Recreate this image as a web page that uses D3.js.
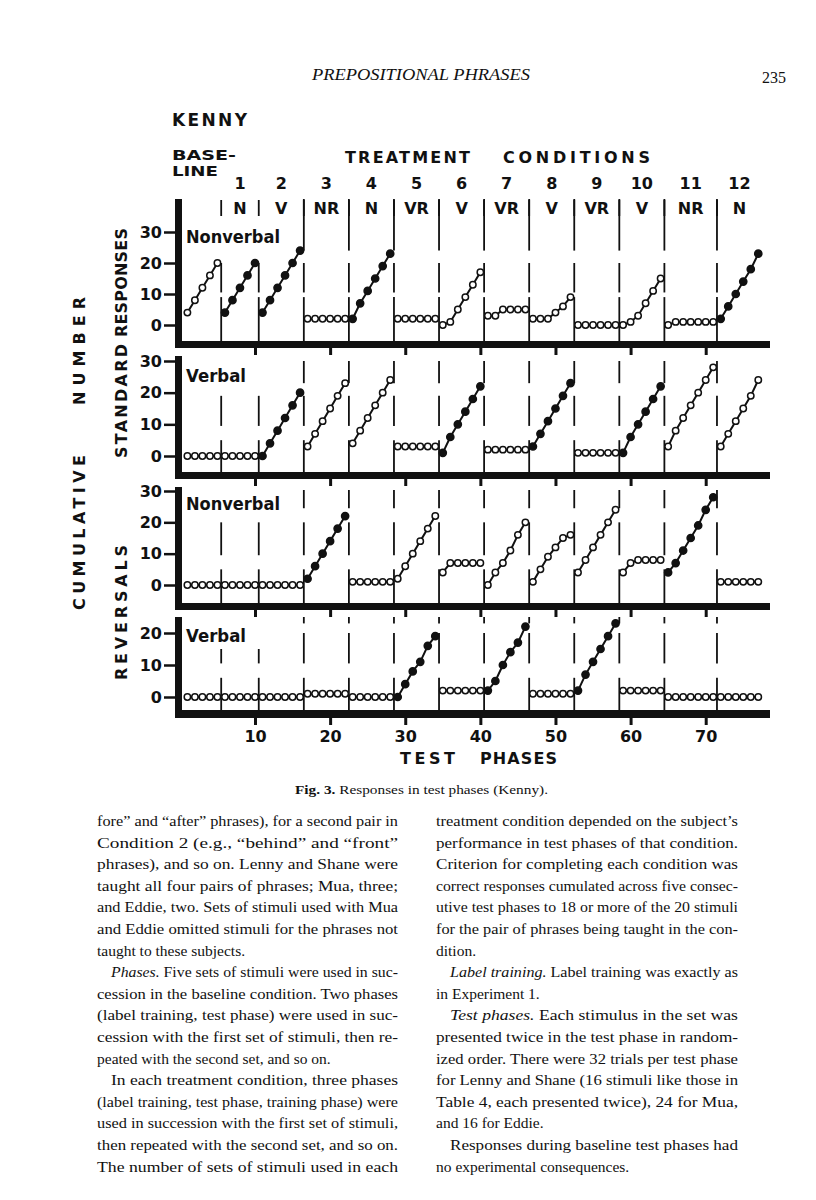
<!DOCTYPE html>
<html>
<head>
<meta charset="utf-8">
<script src="https://cdn.jsdelivr.net/npm/d3@7"></script>
<style>
  body { margin: 0; background: #fff; }
  svg { display: block; }
  .fig text { font-family: "DejaVu Sans", sans-serif; font-weight: bold; fill: #111; }
  .page text { font-family: "Liberation Serif", "Times New Roman", serif; fill: #111; }
</style>
</head>
<body>
<script>
//==DATA==//
// test phases in each block: baseline, then treatment conditions 1..12
const phaseCounts = [5, 5, 6, 6, 6, 6, 6, 6, 6, 6, 6, 7, 6];
const conditionNumbers = ["1", "2", "3", "4", "5", "6", "7", "8", "9", "10", "11", "12"];
const conditionLabels = ["N", "V", "NR", "N", "VR", "V", "VR", "V", "VR", "V", "NR", "N"];
const phaseTicks = [10, 20, 30, 40, 50, 60, 70];
const yTicks = [0, 10, 20, 30];
const yTicksShort = [0, 10, 20];

// cumulative responses per block (baseline first)
const nonverbalStandard = [
  [4, 8, 12, 16, 20], [4, 8, 12, 16, 20], [4, 8, 12, 16, 20, 24], [2, 2, 2, 2, 2, 2],
  [2, 7, 11, 15, 19, 23], [2, 2, 2, 2, 2, 2], [0, 1, 5, 9, 13, 17], [3, 3, 5, 5, 5, 5],
  [2, 2, 2, 4, 6, 9], [0, 0, 0, 0, 0, 0], [0, 1, 3, 7, 11, 15], [0, 1, 1, 1, 1, 1, 1],
  [2, 6, 10, 14, 18, 23]
];
const nonverbalStandardFilled = [0, 1, 1, 0, 1, 0, 0, 0, 0, 0, 0, 0, 1];

const verbalStandard = [
  [0, 0, 0, 0, 0], [0, 0, 0, 0, 0], [0, 4, 8, 12, 16, 20], [3, 7, 11, 15, 19, 23],
  [4, 8, 12, 16, 20, 24], [3, 3, 3, 3, 3, 3], [1, 6, 10, 14, 18, 22], [2, 2, 2, 2, 2, 2],
  [3, 7, 11, 15, 19, 23], [1, 1, 1, 1, 1, 1], [1, 6, 10, 14, 18, 22], [3, 8, 12, 16, 20, 24, 28],
  [3, 7, 11, 15, 19, 24]
];
const verbalStandardFilled = [0, 0, 1, 0, 0, 0, 1, 0, 1, 0, 1, 0, 0];

const nonverbalReversals = [
  [0, 0, 0, 0, 0], [0, 0, 0, 0, 0], [0, 0, 0, 0, 0, 0], [2, 6, 10, 14, 18, 22],
  [1, 1, 1, 1, 1, 1], [2, 6, 10, 14, 18, 22], [4, 7, 7, 7, 7, 7], [0, 4, 7, 11, 16, 20],
  [1, 5, 9, 12, 15, 16], [4, 8, 12, 16, 20, 24], [4, 7, 8, 8, 8, 8], [4, 7, 11, 15, 19, 24, 28],
  [1, 1, 1, 1, 1, 1]
];
const nonverbalReversalsFilled = [0, 0, 0, 1, 0, 0, 0, 0, 0, 0, 0, 1, 0];

const verbalReversals = [
  [0, 0, 0, 0, 0], [0, 0, 0, 0, 0], [0, 0, 0, 0, 0, 0], [1, 1, 1, 1, 1, 1],
  [0, 0, 0, 0, 0, 0], [0, 4, 8, 11, 16, 19], [2, 2, 2, 2, 2, 2], [2, 5, 10, 14, 17, 22],
  [1, 1, 1, 1, 1, 1], [2, 7, 11, 15, 19, 23], [2, 2, 2, 2, 2, 2], [0, 0, 0, 0, 0, 0, 0],
  [0, 0, 0, 0, 0, 0]
];
const verbalReversalsFilled = [0, 0, 0, 0, 0, 1, 0, 1, 0, 1, 0, 0, 0];

//==TEXT OF THE PAGE==//
// [line, indent, justified]; *...* is italic
const leftLines = [
  ["fore\u201d and \u201cafter\u201d phrases), for a second pair in", 0, 1],
  ["Condition 2 (e.g., \u201cbehind\u201d and \u201cfront\u201d", 0, 1],
  ["phrases), and so on. Lenny and Shane were", 0, 1],
  ["taught all four pairs of phrases; Mua, three;", 0, 1],
  ["and Eddie, two. Sets of stimuli used with Mua", 0, 1],
  ["and Eddie omitted stimuli for the phrases not", 0, 1],
  ["taught to these subjects.", 0, 0],
  ["*Phases.* Five sets of stimuli were used in suc-", 1, 1],
  ["cession in the baseline condition. Two phases", 0, 1],
  ["(label training, test phase) were used in suc-", 0, 1],
  ["cession with the first set of stimuli, then re-", 0, 1],
  ["peated with the second set, and so on.", 0, 0],
  ["In each treatment condition, three phases", 1, 1],
  ["(label training, test phase, training phase) were", 0, 1],
  ["used in succession with the first set of stimuli,", 0, 1],
  ["then repeated with the second set, and so on.", 0, 1],
  ["The number of sets of stimuli used in each", 0, 1]
];
const rightLines = [
  ["treatment condition depended on the subject\u2019s", 0, 1],
  ["performance in test phases of that condition.", 0, 1],
  ["Criterion for completing each condition was", 0, 1],
  ["correct responses cumulated across five consec-", 0, 1],
  ["utive test phases to 18 or more of the 20 stimuli", 0, 1],
  ["for the pair of phrases being taught in the con-", 0, 1],
  ["dition.", 0, 0],
  ["*Label training.* Label training was exactly as", 1, 1],
  ["in Experiment 1.", 0, 0],
  ["*Test phases.* Each stimulus in the set was", 1, 1],
  ["presented twice in the test phase in random-", 0, 1],
  ["ized order. There were 32 trials per test phase", 0, 1],
  ["for Lenny and Shane (16 stimuli like those in", 0, 1],
  ["Table 4, each presented twice), 24 for Mua,", 0, 1],
  ["and 16 for Eddie.", 0, 0],
  ["Responses during baseline test phases had", 1, 1],
  ["no experimental consequences.", 0, 0]
];

//==SVG AREA==//
const width = 816;
const height = 1200;
const svg = d3.select("body").append("svg").attr("width", width).attr("height", height);
const fig = svg.append("g").attr("class", "fig");
const page = svg.append("g").attr("class", "page");

const axisX = 175;      // left edge of the thick y bars
const axisRight = 770;  // right end of the bands

const x = d3.scaleLinear().domain([10, 70]).range([255, 705.7]);

// phase numbers of each block
let next = 1;
const blocks = phaseCounts.map(n => { const p = d3.range(next, next + n); next += n; return p; });
const dividers = blocks.slice(1).map(p => p[0] - 0.5);
const blockCenter = p => x(d3.mean(p));

//==PANELS==//
const panels = [
  {label: "Nonverbal", values: nonverbalStandard, filled: nonverbalStandardFilled, ticks: yTicks, max: 30,
   zero: 325, top: 232, axisTop: 199, band: 341, bandH: 7, labelY: 243, gaps: [[9, 10.5], [20, 24]], firstTop: 20, divTop: 199},
  {label: "Verbal", values: verbalStandard, filled: verbalStandardFilled, ticks: yTicks, max: 30,
   zero: 456, top: 361, axisTop: 356, band: 472, bandH: 7, labelY: 382, gaps: [[5, 9.5], [19, 23]], firstTop: 19, divTop: 361},
  {label: "Nonverbal", values: nonverbalReversals, filled: nonverbalReversalsFilled, ticks: yTicks, max: 30,
   zero: 585, top: 491, axisTop: 487, band: 603, bandH: 7, labelY: 510, gaps: [[5, 9.5], [20, 24.5]], firstTop: 20, divTop: 490},
  {label: "Verbal", values: verbalReversals, filled: verbalReversalsFilled, ticks: yTicksShort, max: 20,
   zero: 697, top: 633, axisTop: 617, band: 710, bandH: 8, labelY: 642, gaps: [[6, 10.5], [20, 23]], firstTop: 15, divTop: 617}
];

panels.forEach(function(pn, k) {
  const y = d3.scaleLinear().domain([0, pn.max]).range([pn.zero, pn.top]);
  const g = fig.append("g");

  // condition dividers, drawn in broken pieces like the original
  dividers.forEach(function(d, i) {
    let segs = [[0, pn.gaps[0][0]], [pn.gaps[0][1], pn.gaps[1][0]], [pn.gaps[1][1], null]];
    if (i < 2) segs = [[0, pn.gaps[0][0]], [pn.gaps[0][1], pn.firstTop]];
    segs.forEach(function(s) {
      g.append("line")
        .attr("x1", x(d)).attr("x2", x(d))
        .attr("y1", s[0] === 0 ? pn.band : y(s[0]))
        .attr("y2", s[1] === null ? pn.divTop : y(s[1]))
        .attr("stroke", "#111").attr("stroke-width", 1.8);
    });
  });

  // series
  const line = d3.line().x(d => x(d.p)).y(d => y(d.v));
  pn.values.forEach(function(vals, b) {
    const pts = vals.map((v, j) => ({p: blocks[b][j], v: v}));
    g.append("path").attr("d", line(pts))
      .attr("fill", "none").attr("stroke", "#111").attr("stroke-width", 2);
    g.selectAll(null).data(pts).enter().append("circle")
      .attr("cx", d => x(d.p)).attr("cy", d => y(d.v))
      .attr("r", pn.filled[b] ? 3.6 : 3.2)
      .attr("fill", pn.filled[b] ? "#111" : "#fff")
      .attr("stroke", "#111").attr("stroke-width", 1.5);
  });

  // thick y bar and bottom band
  g.append("rect").attr("x", axisX).attr("y", pn.axisTop)
    .attr("width", 7).attr("height", pn.band + pn.bandH - pn.axisTop).attr("fill", "#111");
  g.append("rect").attr("x", axisX).attr("y", pn.band)
    .attr("width", axisRight - axisX).attr("height", pn.bandH).attr("fill", "#111");

  // y axis
  const ya = g.append("g").attr("transform", "translate(" + (axisX + 1) + ",0)")
    .call(d3.axisLeft(y).tickValues(pn.ticks).tickSize(12).tickPadding(2));
  ya.select(".domain").remove();
  ya.selectAll(".tick line").attr("stroke", "#111").attr("stroke-width", 2.5);
  ya.selectAll(".tick text").style("font-size", "16px").attr("fill", "#111")
    .style("font-family", "DejaVu Sans").style("font-weight", "bold");

  // phase ticks hanging under each band
  const xa = g.append("g").attr("transform", "translate(0," + (pn.band + pn.bandH) + ")")
    .call(d3.axisBottom(x).tickValues(phaseTicks).tickSize(7).tickPadding(6)
      .tickFormat(k === 3 ? d3.format("d") : ""));
  xa.select(".domain").remove();
  xa.selectAll(".tick line").attr("stroke", "#111").attr("stroke-width", 3);
  xa.selectAll(".tick text").style("font-size", "16px").attr("fill", "#111")
    .style("font-family", "DejaVu Sans").style("font-weight", "bold");

  // panel label
  g.append("text").attr("x", 186).attr("y", pn.labelY)
    .attr("textLength", pn.label === "Nonverbal" ? 94 : 60).attr("lengthAdjust", "spacingAndGlyphs")
    .style("font-size", "17px").text(pn.label);
});

//==HEADER OF THE FIGURE==//
fig.append("text").attr("x", 172).attr("y", 126).attr("textLength", 75)
  .style("font-size", "17px").text("KENNY");
fig.append("text").attr("x", 172).attr("y", 160).attr("textLength", 64)
  .attr("lengthAdjust", "spacingAndGlyphs").style("font-size", "13.5px").text("BASE-");
fig.append("text").attr("x", 172).attr("y", 176).attr("textLength", 46)
  .attr("lengthAdjust", "spacingAndGlyphs").style("font-size", "13.5px").text("LINE");
fig.append("text").attr("x", 345).attr("y", 163).attr("textLength", 125)
  .style("font-size", "16px").text("TREATMENT");
fig.append("text").attr("x", 503).attr("y", 163).attr("textLength", 147)
  .style("font-size", "16px").text("CONDITIONS");

fig.append("g").selectAll("text").data(conditionNumbers).enter().append("text")
  .attr("x", (d, i) => blockCenter(blocks[i + 1])).attr("y", 189)
  .attr("text-anchor", "middle").style("font-size", "16px").text(d => d);

fig.append("g").selectAll("text").data(conditionLabels).enter().append("text")
  .attr("x", (d, i) => blockCenter(blocks[i + 1])).attr("y", 214)
  .attr("text-anchor", "middle").style("font-size", "16px").text(d => d);

// little marks between condition labels
fig.append("g").selectAll("line").data(dividers).enter().append("line")
  .attr("x1", d => x(d)).attr("x2", d => x(d)).attr("y1", 200).attr("y2", 216)
  .attr("stroke", "#111").attr("stroke-width", 1.8);

// rotated axis titles
function vtext(label, cx, yBottom, yTop) {
  fig.append("text")
    .attr("transform", "translate(" + cx + "," + yBottom + ") rotate(-90)")
    .attr("dy", "0.36em").attr("textLength", yBottom - yTop).attr("lengthAdjust", "spacing")
    .style("font-size", "16px").text(label);
}
vtext("CUMULATIVE", 79, 610, 455);
vtext("NUMBER", 79, 405, 297);
vtext("STANDARD", 121, 458, 344);
vtext("RESPONSES", 121, 337, 228);
vtext("REVERSALS", 121, 680, 545);

fig.append("text").attr("x", 400).attr("y", 764).attr("textLength", 55)
  .style("font-size", "16px").text("TEST");
fig.append("text").attr("x", 480).attr("y", 764).attr("textLength", 77)
  .style("font-size", "16px").text("PHASES");

//==PAGE TEXT==//
page.append("text").attr("x", 312).attr("y", 80).attr("textLength", 218)
  .attr("lengthAdjust", "spacingAndGlyphs")
  .style("font-size", "16px").style("font-style", "italic").text("PREPOSITIONAL PHRASES");
page.append("text").attr("x", 786).attr("y", 83).attr("text-anchor", "end")
  .style("font-size", "16px").text("235");

const cap = page.append("text").attr("x", 295).attr("y", 794).attr("textLength", 253)
  .attr("lengthAdjust", "spacingAndGlyphs").style("font-size", "13.5px");
cap.append("tspan").style("font-weight", "bold").text("Fig. 3.");
cap.append("tspan").text(" Responses in test phases (Kenny).");

function column(lines, x0, w) {
  lines.forEach(function(l, i) {
    const indent = l[1] ? 14 : 0;
    const t = page.append("text").attr("x", x0 + indent).attr("y", 826 + i * 21.6)
      .style("font-size", "15.5px");
    if (l[2]) t.attr("textLength", w - indent).attr("lengthAdjust", "spacingAndGlyphs");
    l[0].split("*").forEach(function(part, j) {
      if (part === "") return;
      const s = t.append("tspan").text(part);
      if (j % 2 === 1) s.style("font-style", "italic");
    });
  });
}
column(leftLines, 97, 301);
column(rightLines, 436, 302);
</script>
</body>
</html>
